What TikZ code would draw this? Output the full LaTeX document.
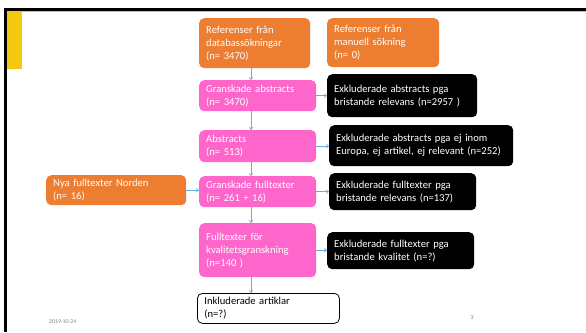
\documentclass[tikz,border=0pt]{standalone}
\usepackage{fontspec}
\setmainfont{Carlito}
\usetikzlibrary{arrows.meta}
\definecolor{orng}{HTML}{ED7D31}
\definecolor{pnk}{HTML}{FF66CC}
\definecolor{arrc}{HTML}{6FA8DC}
\definecolor{yel}{HTML}{F2C811}
\tikzset{
  bx/.style={anchor=north west, rounded corners=5pt, inner xsep=7pt, inner ysep=2pt,
    align=left, font=\fontsize{10.6}{13}\selectfont, text=white},
  obox/.style={bx, fill=orng},
  pbox/.style={bx, fill=pnk},
  kbox/.style={bx, fill=black},
  wbox/.style={bx, fill=white, draw=black, line width=0.8pt, text=black},
  arr/.style={draw=arrc, line width=0.6pt, -{To[length=3pt,width=4pt]}},
  foot/.style={font=\fontsize{5.8}{6}\selectfont, text=gray, inner sep=0},
}
\begin{document}
\begin{tikzpicture}[x=1pt,y=1pt]
\useasboundingbox (0,0) rectangle (586,-332);
% frame
\fill[black] (4,-8) rectangle (586,-11);
\fill[black] (4,-8) rectangle (7,-332);
\draw[gray!50, line width=0.5pt] (7,-11.6) -- (586,-11.6);
\fill[yel] (7,-11) rectangle (22,-69);
% boxes
\node[obox, minimum width=111pt, minimum height=50pt, text width=97pt] (b1) at (199,-18)
  {Referenser från\\databassökningar\\(n= 3470)};
\node[obox, minimum width=112pt, minimum height=49pt, text width=98pt] (b2) at (327,-18)
  {Referenser från\\manuell sökning\\(n= 0)};
\node[pbox, minimum width=117pt, minimum height=31pt, text width=103pt] (b3) at (199,-80)
  {Granskade abstracts\\(n= 3470)};
\node[kbox, minimum width=150pt, minimum height=43pt, text width=136pt] (b4) at (327,-74)
  {Exkluderade abstracts pga\\bristande relevans (n=2957 )};
\node[pbox, minimum width=117pt, minimum height=32pt, text width=103pt] (b5) at (199,-130)
  {Abstracts\\(n= 513)};
\node[kbox, minimum width=184pt, minimum height=41pt, text width=170pt] (b6) at (329,-125)
  {Exkluderade abstracts pga ej inom\\Europa, ej artikel, ej relevant (n=252)};
\node[obox, minimum width=140pt, minimum height=30pt, text width=126pt] (b7) at (46,-175)
  {Nya fulltexter Norden\\(n= 16)};
\node[pbox, minimum width=117pt, minimum height=31pt, text width=103pt] (b8) at (199,-176)
  {Granskade fulltexter\\(n= 261 + 16)};
\node[kbox, minimum width=147pt, minimum height=37pt, text width=133pt] (b9) at (329,-173)
  {Exkluderade fulltexter pga\\bristande relevans (n=137)};
\node[pbox, minimum width=117pt, minimum height=54pt, text width=103pt] (b10) at (199,-223)
  {Fulltexter för\\kvalitetsgranskning\\(n=140 )};
\node[kbox, minimum width=147pt, minimum height=37pt, text width=133pt] (b11) at (327,-232)
  {Exkluderade fulltexter pga\\bristande kvalitet (n=?)};
\node[wbox, minimum width=142pt, minimum height=30pt, text width=128pt] (b12) at (197,-293)
  {Inkluderade artiklar\\(n=?)};
% footer
\node[foot, anchor=west] (date) at (49,-322) {2019-10-24};
\node[foot] (pg) at (472,-318) {3};
% arrows
\coordinate (ax) at (251,0);
\draw[arr] (b1.south -| ax) -- (b3.north -| ax);
\draw[arr] (b3.south -| ax) -- (b5.north -| ax);
\draw[arr] (b5.south -| ax) -- (b8.north -| ax);
\draw[arr] (b8.south -| ax) -- (b10.north -| ax);
\draw[arr] (b10.south -| ax) -- (b12.north -| ax);
\draw[arr] (b3.east) -- (b3.east -| b4.west);
\draw[arr] (b5.east) -- (b5.east -| b6.west);
\draw[arr] (b7.east) -- (b7.east -| b8.west);
\draw[arr] (b8.east) -- (b8.east -| b9.west);
\draw[arr] (b10.east) -- (b10.east -| b11.west);
\end{tikzpicture}
\end{document}
